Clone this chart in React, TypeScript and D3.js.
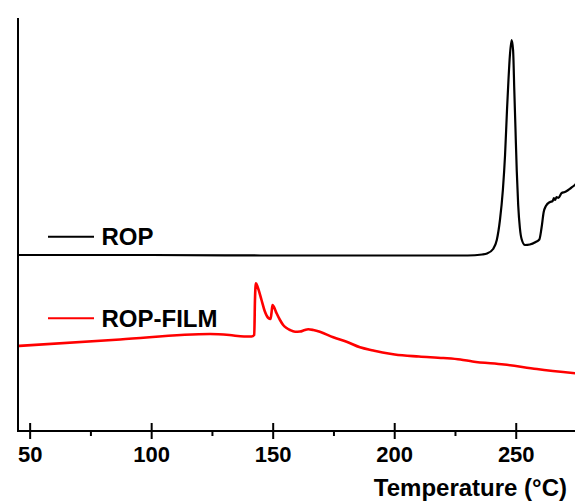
import React from "react";
import * as d3 from "d3";

// Temperature (°C) and heat-flow (arbitrary units)
const ropTemp = [45, 100, 150, 200, 230, 236, 238, 240.5, 242, 243.3, 244.5, 245.4, 246.2, 246.8, 247.4, 248.1, 248.7, 249.2, 249.7, 250.2, 250.8, 251.5, 252.2, 253.6, 255.6, 258, 259.5, 260.4, 261.3, 262.2, 263.9, 265, 265.5, 266, 266.6, 267.3, 268.7, 270, 271.4, 272.5, 274.1, 275];
const ropFlow = [176, 176, 175.5, 175.5, 175.5, 176.5, 177.5, 182, 191, 211, 241, 276, 321, 351, 376, 391, 381, 341, 301, 261, 226, 203, 192, 186, 186.5, 189, 191.5, 203, 219, 225, 229, 230, 233, 231, 234, 233, 238, 239, 241, 243, 246, 248];

const filmTemp = [45, 87, 124, 132, 138, 141.1, 142.2, 142.5, 142.9, 143.6, 145.2, 146.5, 148, 148.9, 149.3, 149.7, 150.3, 151.4, 152.8, 154.1, 155.5, 156.9, 159, 161, 163, 164.4, 166.5, 169.2, 174.7, 180.2, 185.7, 191.2, 195, 200, 210, 220, 227, 232, 245, 258.5, 275];
const filmFlow = [85, 91.5, 97, 96, 94.5, 94.5, 96, 131, 147.7, 144, 131, 120, 113, 112, 118, 126, 124, 117.7, 111, 106, 103, 101, 99.3, 99.5, 101, 101.7, 101, 99.3, 93.7, 89.3, 83.7, 80.5, 78.5, 76.5, 74.5, 73, 71.5, 69.5, 66.5, 62, 57.5];

const majorTicks = [50, 100, 150, 200, 250];
const minorTicks = [75, 125, 175, 225, 275];
const seriesNames = ["ROP", "ROP-FILM"];
const seriesColors = ["#000000", "#ff0000"];
const xTitle = "Temperature (°C)";

export default function App() {
  const W = 575, H = 503;
  const x = d3.scaleLinear().domain([45, 275]).range([18, 577]);
  const y = d3.scaleLinear().domain([0, 413]).range([431, 18]);
  const line = d3
    .line<[number, number]>()
    .x((d) => x(d[0]))
    .y((d) => y(d[1]))
    .curve(d3.curveMonotoneX);
  const rop = ropTemp.map((t, i) => [t, ropFlow[i]] as [number, number]);
  const film = filmTemp.map((t, i) => [t, filmFlow[i]] as [number, number]);
  const font = "'Liberation Sans', Arial, sans-serif";
  const y0 = y(0);
  const legendY = [236.7, 318.3];
  return (
    <div style={{ position: "absolute", left: 0, top: 0 }}>
      <svg width={W} height={H} style={{ display: "block", background: "#fff" }}>
        <path d={line(rop) || ""} fill="none" stroke={seriesColors[0]} strokeWidth={2.2} />
        <path d={line(film) || ""} fill="none" stroke={seriesColors[1]} strokeWidth={2.6} />
        {/* axes */}
        <line x1={x(45)} x2={x(45)} y1={y(413)} y2={y0 + 1} stroke="#000" strokeWidth={2} />
        <line x1={x(45) - 1} x2={x(275)} y1={y0} y2={y0} stroke="#000" strokeWidth={2} />
        {majorTicks.map((t) => (
          <g key={t}>
            <line x1={x(t)} x2={x(t)} y1={y0 - 8} y2={y0 + 8} stroke="#000" strokeWidth={2} />
            <text x={x(t)} y={462} textAnchor="middle" fontFamily={font} fontWeight="bold" fontSize={22} fill="#000">
              {t}
            </text>
          </g>
        ))}
        {minorTicks.map((t) => (
          <line key={t} x1={x(t)} x2={x(t)} y1={y0} y2={y0 + 5} stroke="#000" strokeWidth={2} />
        ))}
        <text x={567} y={496} textAnchor="end" fontFamily={font} fontWeight="bold" fontSize={24} fill="#000">
          {xTitle}
        </text>
        {/* legend */}
        {seriesNames.map((n, i) => (
          <g key={n}>
            <line x1={48} x2={94} y1={legendY[i]} y2={legendY[i]} stroke={seriesColors[i]} strokeWidth={2} />
            <text x={101.5} y={legendY[i] + 8.2} fontFamily={font} fontWeight="bold" fontSize={24} fill="#000">
              {n}
            </text>
          </g>
        ))}
      </svg>
    </div>
  );
}
